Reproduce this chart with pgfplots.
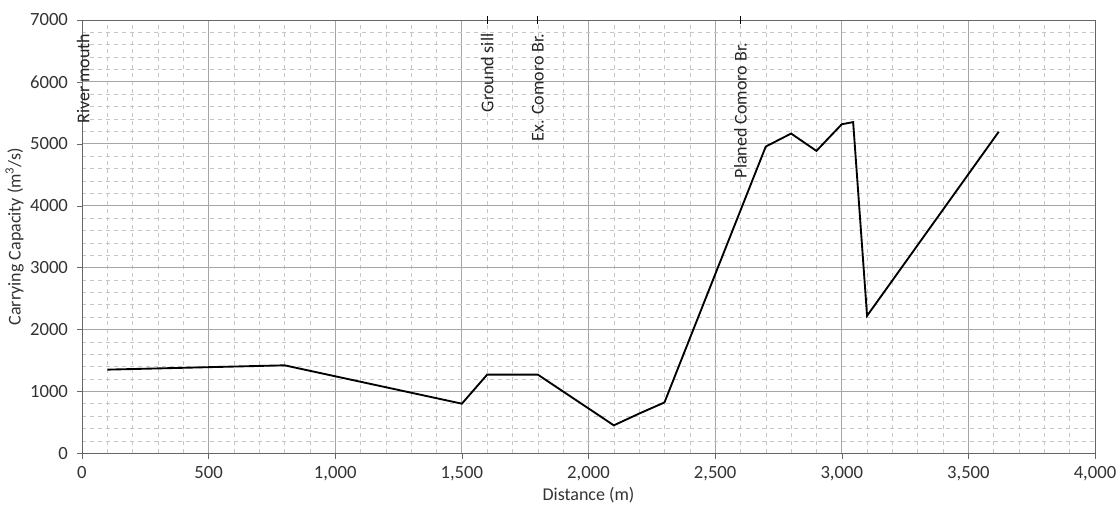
\documentclass[border=0pt]{standalone}
\usepackage{fontspec}
\setmainfont{Carlito}
\usepackage{pgfplots}
\pgfplotsset{compat=1.18}

\begin{document}
\begin{tikzpicture}
\begin{axis}[
  scale only axis, width=760pt, height=325pt,
  xmin=0, xmax=4000, ymin=0, ymax=7000,
  xtick={0,500,...,4000}, ytick={0,1000,...,7000},
  minor x tick num=4, minor y tick num=4,
  grid=both,
  major grid style={gray!70, line width=0.6pt},
  minor grid style={gray!45, dashed, line width=0.4pt},
  axis line style={gray!80!black, line width=0.6pt},
  tick pos=left, tick align=outside,
  major tick length=4pt, minor tick length=0pt,
  tick style={gray!80!black},
  /pgf/number format/assume math mode=true,
  x tick label style={/pgf/number format/1000 sep={,}, yshift=-2pt},
  y tick label style={/pgf/number format/1000 sep={}, xshift=-3pt},
  tick label style={font=\fontsize{14}{16}\selectfont, text=black!80},
  label style={font=\fontsize{13.5}{15}\selectfont, text=black!80},
  xlabel={Distance (m)}, ylabel={Carrying Capacity (m\textsuperscript{3}/s)},
  xlabel style={yshift=2pt}, ylabel style={yshift=-2pt},
  clip=false]
\addplot[black, line width=1.4pt] coordinates {
  (100,1350) (800,1420) (1500,800) (1600,1270) (1800,1270) (2100,450)
  (2200,640) (2300,820) (2700,4955) (2800,5165) (2900,4885) (3000,5315)
  (3045,5350) (3100,2220) (3620,5195)};
\draw[black, line width=0.6pt] (axis cs:1600,7000) ++(0,-3pt) -- ++(0,6pt);
\draw[black, line width=0.6pt] (axis cs:1800,7000) ++(0,-3pt) -- ++(0,6pt);
\draw[black, line width=0.6pt] (axis cs:2600,7000) ++(0,-3pt) -- ++(0,6pt);
\node[rotate=90, anchor=east, font=\fontsize{13.5}{15}\selectfont, text=black!85, inner sep=0pt] at ([xshift=1pt,yshift=-10pt]axis cs:0,7000) {River mouth};
\node[rotate=90, anchor=east, font=\fontsize{13.5}{15}\selectfont, text=black!85, inner sep=0pt] at ([yshift=-10pt]axis cs:1600,7000) {Ground sill};
\node[rotate=90, anchor=east, font=\fontsize{13.5}{15}\selectfont, text=black!85, inner sep=0pt] at ([yshift=-10pt]axis cs:1800,7000) {Ex. Comoro Br.};
\node[rotate=90, anchor=east, font=\fontsize{13.5}{15}\selectfont, text=black!85, inner sep=0pt] at ([yshift=-17pt]axis cs:2600,7000) {Planed Comoro Br.};
\end{axis}
\pgfresetboundingbox
\path ([xshift=-61.5pt,yshift=-42pt]current axis.south west) rectangle ([xshift=16.5pt,yshift=15pt]current axis.north east);
\end{tikzpicture}
\end{document}
